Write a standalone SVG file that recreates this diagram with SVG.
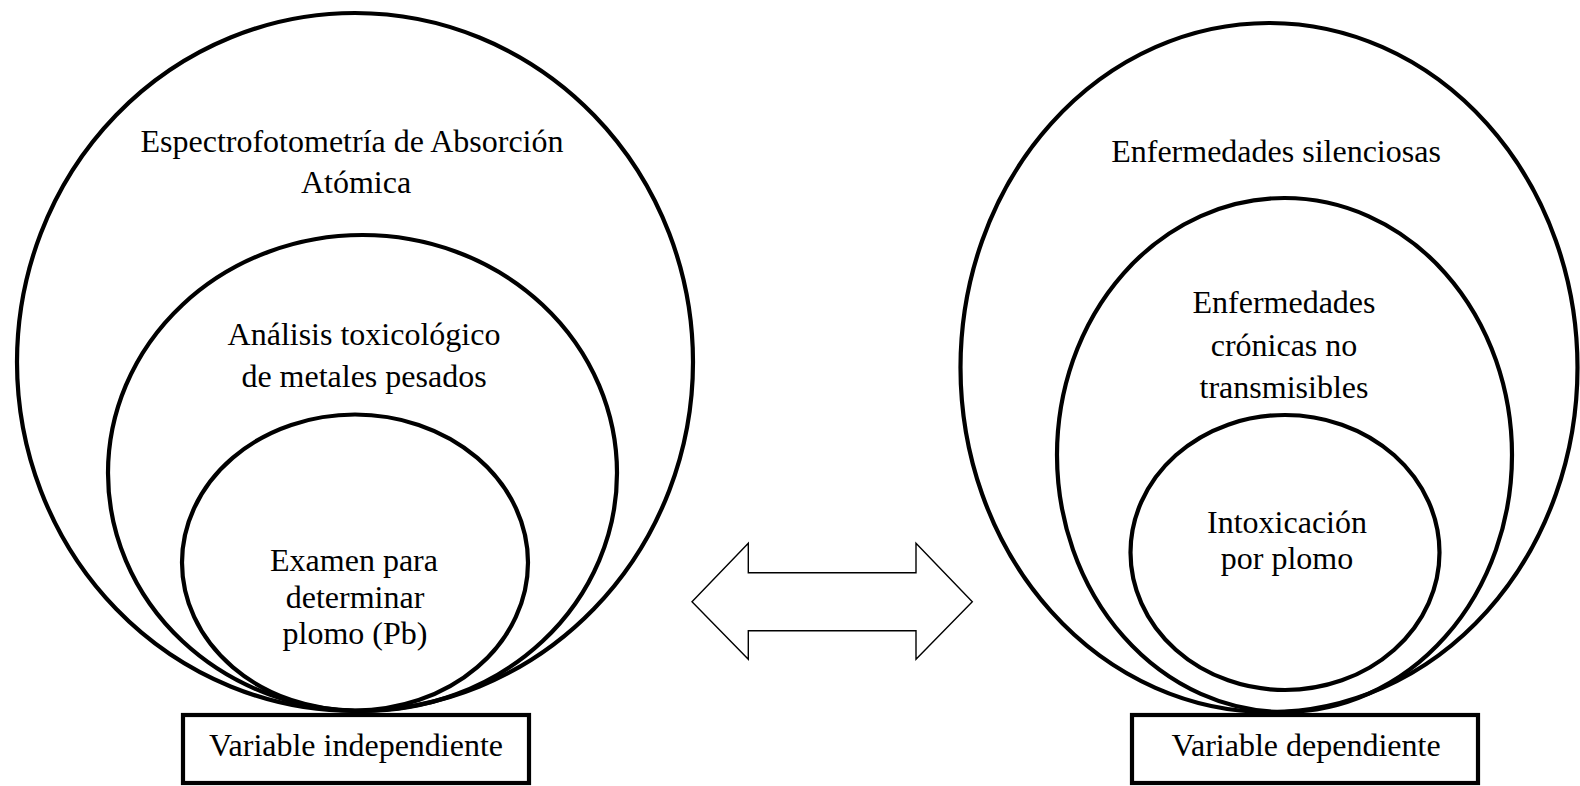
<svg xmlns="http://www.w3.org/2000/svg" width="1580" height="786" viewBox="0 0 1580 786">
<style>
.e{fill:none;stroke:#000;stroke-width:4.2}
.b{fill:#fff;stroke:#000;stroke-width:4.2}
.t{font-family:"Liberation Serif","Times New Roman",serif;font-size:32px;fill:#000;text-anchor:middle}
.a{fill:#fff;stroke:#000;stroke-width:1.4;stroke-linejoin:miter}
</style>
<rect width="1580" height="786" fill="#fff"/>
<g id="left">
  <g id="l-outer"><ellipse class="e" cx="355" cy="362" rx="338" ry="349"/>
    <text class="t" x="352" y="152">Espectrofotometría de Absorción</text>
    <text class="t" x="356" y="193">Atómica</text></g>
  <g id="l-middle"><ellipse class="e" cx="362.5" cy="473" rx="254.5" ry="238"/>
    <text class="t" x="364" y="345">Análisis toxicológico</text>
    <text class="t" x="364" y="387">de metales pesados</text></g>
  <g id="l-inner"><ellipse class="e" cx="355" cy="562.5" rx="173" ry="148"/>
    <text class="t" x="354" y="571">Examen para</text>
    <text class="t" x="355" y="608">determinar</text>
    <text class="t" x="355" y="644">plomo (Pb)</text></g>
  <g id="l-box"><rect class="b" x="183" y="715" width="346" height="68"/>
    <text class="t" x="356" y="756">Variable independiente</text></g>
</g>
<g id="connectors">
  <polygon class="a" points="692,601.7 748.3,543.3 748.3,572.7 916,572.7 916,543.3 972.3,601.7 916,659.3 916,630.7 748.3,630.7 748.3,659.3"/>
</g>
<g id="right">
  <g id="r-outer"><ellipse class="e" cx="1269" cy="367.5" rx="308.5" ry="344.5"/>
    <text class="t" x="1276" y="162">Enfermedades silenciosas</text></g>
  <g id="r-middle"><ellipse class="e" cx="1284.5" cy="455" rx="227.5" ry="257"/>
    <text class="t" x="1284" y="313">Enfermedades</text>
    <text class="t" x="1284" y="356">crónicas no</text>
    <text class="t" x="1284" y="398">transmisibles</text></g>
  <g id="r-inner"><ellipse class="e" cx="1285" cy="552.5" rx="154.5" ry="137.5"/>
    <text class="t" x="1287" y="533">Intoxicación</text>
    <text class="t" x="1287" y="569">por plomo</text></g>
  <g id="r-box"><rect class="b" x="1132" y="715" width="346" height="68"/>
    <text class="t" x="1306" y="756">Variable dependiente</text></g>
</g>
</svg>
